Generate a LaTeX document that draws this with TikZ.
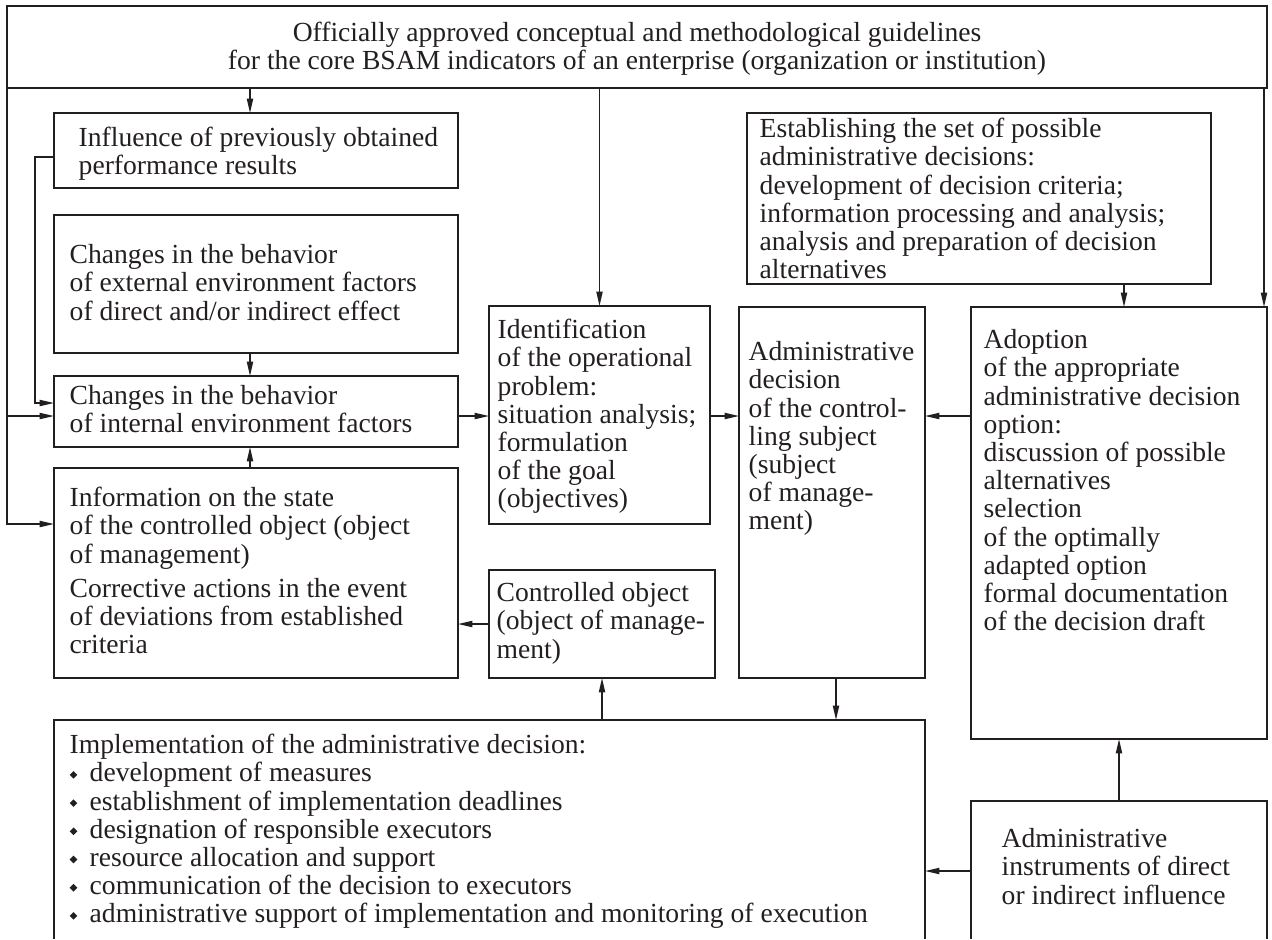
\documentclass[tikz,border=0pt]{standalone}
\usepackage{fontspec}
\setmainfont{Liberation Serif}
\usetikzlibrary{arrows.meta,fit}
% strut that fixes the first baseline 10pt below the top of a text block
\newcommand\fs{\rule{0pt}{10pt}}
% small filled diamond used as a list bullet
\newcommand\dia{\makebox[10pt][l]{\raisebox{1.6pt}{\rotatebox{45}{\rule{2.7pt}{2.7pt}}}}}
\definecolor{ink}{HTML}{231F20}
\begin{document}
\begin{tikzpicture}[x=0.5pt,y=-0.5pt, line width=0.7pt, draw=ink, text=ink,
  blk/.style={draw=ink, inner sep=0pt, outer sep=0pt},
  ghost/.style={inner sep=0pt, outer sep=0pt},
  txt/.style={inner sep=0pt, anchor=north west, align=left,
              font=\fontsize{13.8}{14.1}\selectfont},
  arr/.style={draw=ink, -{Triangle[length=7.2pt,width=3.1pt]}}]
\useasboundingbox (0,0) rectangle (1272,939);

% ---------- boxes ----------
\node[blk, fit={(7,6) (1267,88)}]      (top)   {};
\node[blk, fit={(54,113) (458,188)}]   (infl)  {};
\node[blk, fit={(54,215) (458,353)}]   (ext)   {};
\node[blk, fit={(54,376) (458,447)}]   (int)   {};
\node[blk, fit={(54,468) (458,678)}]   (info)  {};
\node[blk, fit={(489,306) (710,524)}]  (ident) {};
\node[blk, fit={(489,570) (715,678)}]  (ctrl)  {};
\node[blk, fit={(739,307) (925,678)}]  (adm)   {};
\node[blk, fit={(747,113) (1211,284)}] (estab) {};
\node[blk, fit={(971,307) (1267,739)}] (adopt) {};
% boxes that run off the lower edge
\node[ghost, fit={(54,720) (925,939)}]   (impl)  {};
\node[ghost, fit={(971,801) (1267,939)}] (instr) {};
\draw (impl.south west) -- (impl.north west) -- (impl.north east) -- (impl.south east);
\draw (instr.south west) -- (instr.north west) -- (instr.north east) -- (instr.south east);

% ---------- texts ----------
\node[txt, anchor=north, align=center] (t-top) at (637,21)
  {\fs Officially approved conceptual and methodological guidelines\\
   for the core BSAM indicators of an enterprise (organization or institution)};
\node[txt] (t-infl) at (78,126)
  {\fs Influence of previously obtained\\performance results};
\node[txt] (t-ext) at (69,243)
  {\fs Changes in the behavior\\of external environment factors\\of direct and/or indirect effect};
\node[txt] (t-int) at (69,384)
  {\fs Changes in the behavior\\of internal environment factors};
\node[txt] (t-info) at (69,486)
  {\fs Information on the state\\of the controlled object (object\\of management)\\[3pt]
   Corrective actions in the event\\of deviations from established\\criteria};
\node[txt] (t-ident) at (497,318)
  {\fs Identification\\of the operational\\problem:\\situation analysis;\\formulation\\of the goal\\(objectives)};
\node[txt] (t-adm) at (748,340)
  {\fs Administrative\\decision\\of the control-\\ling subject\\(subject\\of manage-\\ment)};
\node[txt] (t-ctrl) at (496,581)
  {\fs Controlled object\\(object of manage-\\ment)};
\node[txt] (t-estab) at (759,117)
  {\fs Establishing the set of possible\\administrative decisions:\\development of decision criteria;\\
   information processing and analysis;\\analysis and preparation of decision\\alternatives};
\node[txt] (t-adopt) at (983,328)
  {\fs Adoption\\of the appropriate\\administrative decision\\option:\\discussion of possible\\alternatives\\
   selection\\of the optimally\\adapted option\\formal documentation\\of the decision draft};
\node[txt] (t-impl) at (69,733)
  {\fs Implementation of the administrative decision:\\
   \dia development of measures\\
   \dia establishment of implementation deadlines\\
   \dia designation of responsible executors\\
   \dia resource allocation and support\\
   \dia communication of the decision to executors\\
   \dia administrative support of implementation and monitoring of execution};
\node[txt] (t-instr) at (1001,827)
  {\fs Administrative\\instruments of direct\\or indirect influence};

% ---------- guide coordinates for connector positions ----------
\coordinate (xa)   at (250,0);
\coordinate (xb)   at (35,0);
\coordinate (xc)   at (1124,0);
\coordinate (xd)   at (1264,0);
\coordinate (xe)   at (836,0);
\coordinate (y157) at (0,157);
\coordinate (y403) at (0,403);
\coordinate (y416) at (0,416);
\coordinate (y524) at (0,524);
\coordinate (y624) at (0,624);
\coordinate (y871) at (0,871);

% ---------- connectors ----------
\draw[arr] (top.south -| xa) -- (infl.north -| xa);
\draw[arr] (top.south -| ident.north) -- (ident.north);
\draw[arr] (top.south -| xd) -- (adopt.north -| xd);
\draw[arr] (top.south west) -- (top.south west |- y524) -- (info.west |- y524);
\draw[arr] (top.south west |- y416) -- (int.west |- y416);
\draw[arr] (infl.west |- y157) -- (xb |- y157) -- (xb |- y403) -- (int.west |- y403);
\draw[arr] (ext.south -| xa) -- (int.north -| xa);
\draw[arr] (info.north -| xa) -- (int.south -| xa);
\draw[arr] (int.east |- y416) -- (ident.west |- y416);
\draw[arr] (ident.east |- y416) -- (adm.west |- y416);
\draw[arr] (adopt.west |- y416) -- (adm.east |- y416);
\draw[arr] (estab.south -| xc) -- (adopt.north -| xc);
\draw[arr] (ctrl.west |- y624) -- (info.east |- y624);
\draw[arr] (adm.south -| xe) -- (impl.north -| xe);
\draw[arr] (impl.north -| ctrl.south) -- (ctrl.south);
\draw[arr] (instr.north -| adopt.south) -- (adopt.south);
\draw[arr] (instr.west |- y871) -- (impl.east |- y871);
\end{tikzpicture}
\end{document}
